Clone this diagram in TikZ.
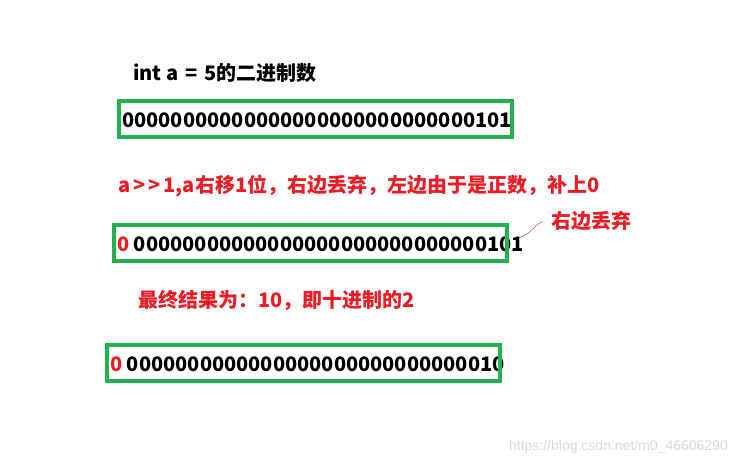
\documentclass[tikz,border=0pt]{standalone}
\usepackage{fontspec}
\setmainfont{Noto Sans CJK SC}
\newfontfamily\urlfont{Liberation Sans}
\usetikzlibrary{positioning}
\definecolor{boxgreen}{HTML}{22B14C}
\definecolor{notered}{HTML}{ED1C24}
\tikzset{x=1pt, y=-1pt, % one unit is one pixel of the reference
every node/.style={inner sep=0pt, font=\fontsize{20}{24}\selectfont\bfseries},
bitbox/.style={draw=boxgreen, line width=4pt, minimum width=393pt, minimum height=36pt}, % green frame round a row of bits
bits/.style={anchor=west}, % a row of bits
note/.style={anchor=west, text=notered}, % red comment
}
\begin{document}
\begin{tikzpicture}
\useasboundingbox (0,0) rectangle (738,466);
\node[anchor=west] (title) at (133,73) {int a\hspace{7pt}=\hspace{7pt}5的二进制数};
\node[bits] (bits1) at (122,120) {00000000000000000000000000000101};
\node[note] (shift) at (118,186) {a\hspace{3pt}{>}\hspace{3pt}{>}\hspace{3pt}1,a右移1位，右边丢弃，左边由于是正数，补上0};
\node[bits] (bits2) at (117,244) {\textcolor{notered}{0} 00000000000000000000000000000101};
\node[note] (drop) at (551,221) {右边丢弃};
\node[note] (result) at (138,300) {最终结果为：10，即十进制的2};
\node[bits] (bits3) at (110,364) {\textcolor{notered}{0} 0000000000000000000000000000010};
% the frames go over the text
\node[bitbox] (box1) at (315.5,119) {};
\node[bitbox] (box2) at (310,243) {};
\node[bitbox] (box3) at (303,363) {};
\draw[notered, thin, shorten >=8pt] (bits2.east) ++(-5,-6) coordinate (tip) to[out=20, in=185] (drop.west);
\node[anchor=east, font=\urlfont\fontsize{14}{16}\selectfont, text=black!15] (mark) at (728,447) {https://blog.csdn.net/m0\_46606290};
\end{tikzpicture}
\end{document}
